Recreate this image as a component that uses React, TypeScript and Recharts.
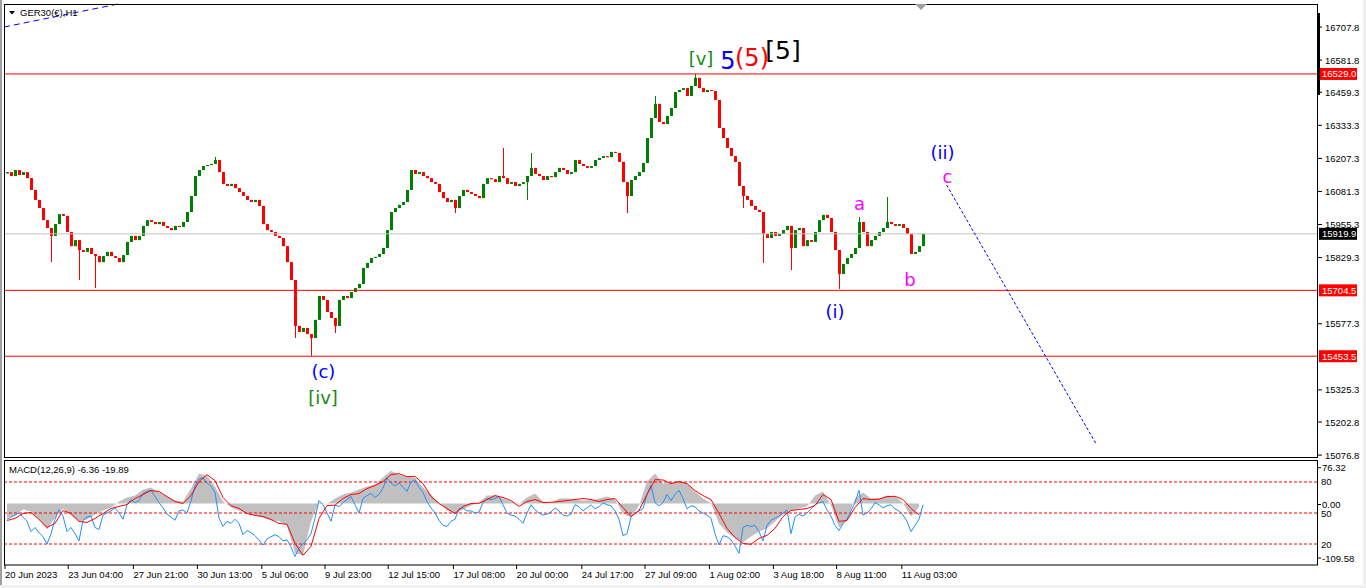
import React from "react";
import {
  ComposedChart,
  Bar,
  Area,
  Line,
  XAxis,
  YAxis,
  ReferenceLine,
  ReferenceDot,
} from "recharts";

const FONT = "'Liberation Sans', Arial, sans-serif";
const WAVE_FONT = "'DejaVu Sans', Verdana, sans-serif";

// GER30 H1 closes, one candle every 4 bars
const firstOpen = 16150;
const closes = [
  16155, 16140, 16163, 16144, 16155, 16132, 16087, 16049, 16018, 15972,
  15942, 15912, 15957, 15995, 15988, 15927, 15873, 15896, 15858, 15851,
  15866, 15843, 15835, 15812, 15835, 15851, 15835, 15828, 15812, 15839,
  15889, 15912, 15896, 15912, 15950, 15972, 15965, 15957, 15965, 15950,
  15942, 15934, 15950, 15946, 15965, 16003, 16064, 16140, 16163, 16178,
  16182, 16186, 16201, 16155, 16110, 16102, 16110, 16094, 16079, 16064,
  16049, 16041, 16049, 16026, 15957, 15934, 15927, 15912, 15904, 15873,
  15812, 15744, 15569, 15546, 15561, 15538, 15523, 15592, 15683, 15668,
  15622, 15599, 15569, 15668, 15683, 15675, 15698, 15713, 15729, 15790,
  15809, 15828, 15832, 15843, 15866, 15934, 16003, 16018, 16030, 16041,
  16087, 16163, 16148, 16155, 16140, 16132, 16117, 16110, 16079, 16056,
  16041, 16049, 16018, 16064, 16087, 16079, 16072, 16064, 16056, 16110,
  16132, 16128, 16117, 16140, 16132, 16110, 16117, 16102, 16110, 16117,
  16140, 16171, 16148, 16140, 16125, 16140, 16136, 16155, 16171, 16163,
  16148, 16155, 16201, 16186, 16178, 16171, 16178, 16201, 16209, 16216,
  16212, 16232, 16228, 16194, 16117, 16064, 16125, 16140, 16155, 16190,
  16285, 16361, 16415, 16346, 16338, 16369, 16399, 16460, 16468, 16475,
  16445, 16483, 16514, 16475, 16460, 16468, 16464, 16430, 16323, 16285,
  16247, 16216, 16194, 16102, 16064, 16049, 16026, 16011, 16003, 15919,
  15904, 15927, 15912, 15919, 15934, 15950, 15866, 15934, 15942, 15873,
  15896, 15889, 15927, 15972, 15992, 15980, 15927, 15858, 15767, 15805,
  15828, 15843, 15866, 15965, 15927, 15873, 15896, 15912, 15927, 15942,
  15965, 15957, 15950, 15957, 15942, 15919, 15843, 15851, 15873, 15919.9,
];

// long wicks: [candle, price]
const highWicks: [number, number][] = [
  [52, 16213], [124, 16247], [131, 16228], [162, 16445], [172, 16529],
  [213, 15984], [220, 16060],
];
const lowWicks: [number, number][] = [
  [11, 15812], [18, 15744], [22, 15713], [72, 15523], [76, 15455],
  [82, 15542], [112, 15999], [130, 16049], [155, 15999], [184, 16018],
  [189, 15809], [196, 15782], [208, 15710],
];

const priceTicks = [
  16707.8, 16581.8, 16459.3, 16333.3, 16207.3, 16081.3, 15955.3, 15829.3,
  15577.3, 15325.3, 15202.8, 15076.8,
];

const timeTicks = [
  -0.5, 15.3, 31.6, 47.6, 63.7, 79.5, 95.3, 111.6, 127.4, 143.7, 159.5,
  175.6, 191.6, 207.4, 223.7,
];
const timeLabels = [
  "20 Jun 2023", "23 Jun 04:00", "27 Jun 21:00", "30 Jun 13:00",
  "5 Jul 06:00", "9 Jul 23:00", "12 Jul 15:00", "17 Jul 08:00",
  "20 Jul 00:00", "24 Jul 17:00", "27 Jul 09:00", "1 Aug 02:00",
  "3 Aug 18:00", "8 Aug 11:00", "11 Aug 03:00",
];

// MACD(12,26,9), one value every 2 candles
const macdMain = [
  -24.9, -21.3, -10.7, -14.2, -28.4, -46.2, -24.9, -8.9, -21.3, -32.0,
  -28.4, -19.5, -12.4, -7.1, 3.6, 10.7, 14.2, 24.9, 28.4, 19.5,
  12.4, 5.3, 3.6, 26.6, 53.3, 49.7, 30.2, 3.6, -7.1, -12.4,
  -17.8, -21.3, -24.9, -30.2, -31.0, -39.1, -88.8, -92.3, -32.0, 1.8,
  -0.5, 8.9, 16.0, 19.5, 24.9, 30.2, 33.7, 46.2, 58.6, 51.5,
  47.9, 46.2, 28.4, 16.0, 1.8, -12.4, -17.8, -10.7, -3.6, 1.8,
  14.2, 14.8, 8.9, 3.6, -1.2, 10.7, 17.8, 3.6, 0.6, 8.9,
  9.4, 7.1, 5.3, 5.8, 8.9, 12.4, 7.1, -17.8, -24.9, -3.6,
  39.1, 53.3, 35.5, 37.3, 40.8, 35.5, 21.3, 8.9, 0.4, -35.5,
  -51.5, -62.1, -69.2, -58.6, -49.7, -44.4, -32.0, -19.5, -12.4, -8.9,
  -5.3, 14.2, 21.3, -3.6, -42.6, -30.2, 8.9, 19.5, 8.9, 9.6,
  14.2, 12.4, 0.8, -23.1, -6.36,
];
const macdSignal = [
  -30.2, -26.6, -17.8, -16.0, -28.4, -42.6, -35.5, -12.4, -17.8, -32.0,
  -33.7, -26.6, -17.8, -8.9, -5.3, -1.8, 8.9, 16.0, 23.1, 21.3,
  12.4, 3.6, 0, 14.2, 39.1, 51.5, 40.8, 10.7, -3.6, -8.9,
  -17.8, -21.3, -23.1, -28.4, -35.5, -37.0, -71.0, -92.3, -76.3, -26.6,
  -3.6, -3.0, 8.9, 16.0, 17.8, 26.6, 32.0, 39.1, 51.5, 53.3,
  47.9, 48.5, 35.5, 12.4, 0, -8.9, -17.8, -5.3, 0, 0.5,
  7.1, 14.2, 10.7, 5.3, -5.3, 3.6, 7.1, 1.8, 2.2, 3.6,
  5.3, 7.1, 8.9, 7.1, 3.6, 7.1, 8.9, -7.1, -23.1, -12.4,
  16.0, 42.6, 42.0, 35.5, 39.1, 35.5, 23.1, 14.2, 7.1, -17.8,
  -44.4, -60.4, -71.0, -72.8, -62.1, -56.8, -44.4, -23.1, -12.4, -10.7,
  -8.9, -3.6, 16.0, 7.1, -32.0, -30.2, -7.1, 8.9, 7.1, 7.6,
  12.4, 12.9, 7.1, -8.9, -19.89,
];

// oscillator overlaid in the MACD window (levels 20/50/80), one per candle
const oscLine = [
  44, 46, 48, 50, 46, 42, 32, 36, 31, 27, 20, 30, 44, 53, 47, 32, 36, 30, 23, 43,
  46, 47, 36, 34, 48, 50, 52, 55, 50, 44, 58, 63, 60, 62, 69, 71, 72, 66, 60, 55,
  49, 46, 43, 52, 53, 50, 62, 76, 83, 84, 79, 76, 70, 45, 37, 42, 40, 44, 40, 29,
  33, 31, 28, 24, 19, 25, 27, 29, 27, 23, 24, 17, 8, 16, 20, 24, 30, 45, 62, 58,
  50, 42, 58, 56, 60, 63, 66, 58, 50, 64, 67, 69, 65, 68, 74, 84, 79, 76, 79, 75,
  71, 80, 82, 75, 70, 61, 55, 50, 43, 38, 37, 42, 44, 54, 55, 52, 52, 50, 51, 60,
  64, 63, 64, 66, 58, 50, 48, 47, 44, 40, 50, 58, 53, 50, 48, 49, 51, 55, 52, 48,
  47, 49, 58, 56, 52, 55, 58, 54, 56, 60, 58, 57, 52, 44, 28, 30, 46, 50, 52, 54,
  68, 77, 60, 57, 60, 68, 62, 68, 72, 64, 54, 57, 56, 52, 50, 48, 45, 30, 19, 28,
  27, 24, 18, 11, 36, 38, 37, 38, 32, 23, 38, 43, 45, 47, 50, 53, 30, 46, 49, 47,
  50, 54, 58, 60, 61, 53, 47, 38, 33, 40, 44, 52, 60, 72, 48, 50, 54, 60, 58, 55,
  57, 58, 54, 52, 48, 42, 32, 38, 44, 58,
];

const waveLabels = [
  { text: "[v]", i: 173.5, p: 16586, color: "#138a13", size: 18 },
  { text: "5", i: 180.25, p: 16582, color: "#0000ff", size: 24 },
  { text: "(5)", i: 186.25, p: 16593, color: "#ff0000", size: 24 },
  { text: "[5]", i: 194, p: 16620, color: "#000000", size: 25 },
  { text: "(c)", i: 79.1, p: 15394, color: "#0000ff", size: 18 },
  { text: "[iv]", i: 79, p: 15294, color: "#138a13", size: 18 },
  { text: "(i)", i: 207, p: 15623, color: "#0000ff", size: 18 },
  { text: "(ii)", i: 233.9, p: 16230, color: "#0000ff", size: 18 },
  { text: "a", i: 213.1, p: 16036, color: "#ff00ff", size: 18 },
  { text: "b", i: 225.75, p: 15744, color: "#ff00ff", size: 18 },
  { text: "c", i: 235.1, p: 16137, color: "#ff00ff", size: 18 },
];

const hiMap = new Map(highWicks);
const loMap = new Map(lowWicks);
const candles = closes.map((c, i) => {
  const o = i === 0 ? firstOpen : closes[i - 1];
  const h = Math.max(o, c, hiMap.get(i) ?? -Infinity);
  const l = Math.min(o, c, loMap.get(i) ?? Infinity);
  return { i, o, h, l, c, range: [l, h] };
});

const macdRows = oscLine.map((v, i) => ({
  i,
  osc: v,
  hist: i % 2 === 0 ? macdMain[i / 2] : null,
  signal: i % 2 === 0 ? macdSignal[i / 2] : null,
}));

const X_DOMAIN: [number, number] = [-0.75, 327.75];

function Candle(props: any) {
  const { x, y, width, height, payload } = props;
  const { o, h, l, c } = payload;
  const top = Math.min(y, y + height);
  const span = Math.abs(height);
  const k = h > l ? span / (h - l) : 0;
  const yO = top + (h - o) * k;
  const yC = top + (h - c) * k;
  const color = c > o ? "#008000" : c < o ? "#ff0000" : "#000000";
  const cx = Math.round(x + width / 2) + 0.5;
  return (
    <g>
      <line x1={cx} x2={cx} y1={top} y2={top + span} stroke={color} strokeWidth={1} />
      <rect
        x={cx - 1.5}
        y={Math.min(yO, yC)}
        width={3}
        height={Math.max(1, Math.abs(yO - yC))}
        fill={color}
      />
    </g>
  );
}

function PriceTick(props: any) {
  const { x, y, payload } = props;
  return (
    <g>
      <line x1={x} x2={x + 4} y1={y} y2={y} stroke="#000" />
      <text x={x + 7} y={y} dy={3.5} fontSize={9.5} fontFamily={FONT} fill="#000">
        {payload.value.toFixed(1)}
      </text>
    </g>
  );
}

function MacdTick(props: any) {
  const { x, y, payload } = props;
  const v = payload.value;
  const shift = v > 1 ? 7 : v < -1 ? -7 : 1;
  return (
    <g>
      <line x1={x} x2={x + 3} y1={y + shift} y2={y + shift} stroke="#000" />
      <text x={x + 4} y={y + shift} dy={3.5} fontSize={9.5} fontFamily={FONT} fill="#000">
        {v.toFixed(2)}
      </text>
    </g>
  );
}

function TimeTick(props: any) {
  const { x, y, payload } = props;
  const k = timeTicks.indexOf(payload.value);
  return (
    <text x={x} y={y} dy={9} fontSize={9.5} fontFamily={FONT} fill="#000">
      {timeLabels[k]}
    </text>
  );
}

const priceTag = (text: string, bg: string) => (props: any) => {
  const { viewBox } = props;
  const x = viewBox.x + viewBox.width;
  const y = viewBox.y;
  return (
    <g>
      <rect x={x + 1} y={y - 6} width={38} height={12} fill={bg} />
      <text x={x + 4} y={y} dy={3.5} fontSize={9.5} fontFamily={FONT} fill="#fff">
        {text}
      </text>
    </g>
  );
};

const levelTag = (text: string) => (props: any) => {
  const { viewBox } = props;
  const x = viewBox.x + viewBox.width;
  return (
    <text x={x + 3} y={viewBox.y} dy={3.5} fontSize={9.5} fontFamily={FONT} fill="#000">
      {text}
    </text>
  );
};

export default function App() {
  return (
    <div
      style={{
        position: "absolute",
        left: 0,
        top: 0,
        width: 1366,
        height: 588,
        background: "#f0f0f0",
        overflow: "hidden",
      }}
    >
      <div
        style={{
          position: "absolute",
          left: 0,
          top: 0,
          width: 1363,
          height: 585,
          background: "#fff",
          borderLeft: "2px solid #a0a0a0",
          boxSizing: "border-box",
        }}
      />
      <div style={{ position: "absolute", left: 0, top: 0 }}>
        <ComposedChart
          width={1366}
          height={460}
          data={candles}
          margin={{ top: 4, right: 0, bottom: 2.3, left: 4 }}
        >
          <XAxis type="number" dataKey="i" domain={X_DOMAIN} hide allowDataOverflow />
          <YAxis
            orientation="right"
            width={48}
            domain={[15066.9, 16795.5]}
            ticks={priceTicks}
            interval={0}
            axisLine={false}
            tickLine={false}
            tickSize={0}
            tickMargin={0}
            tick={PriceTick}
            allowDataOverflow
          />
          <ReferenceLine y={15919.9} stroke="#c0c0c0" label={priceTag("15919.9", "#000")} />
          <ReferenceLine y={16529} stroke="#ff0000" label={priceTag("16529.0", "#ff0000")} />
          <ReferenceLine y={15704.5} stroke="#ff0000" label={priceTag("15704.5", "#ff0000")} />
          <ReferenceLine y={15453.5} stroke="#ff0000" label={priceTag("15453.5", "#ff0000")} />
          <ReferenceLine
            segment={[
              { x: -0.75, y: 16707.8 },
              { x: 27.75, y: 16795.5 },
            ]}
            stroke="#0000ff"
            strokeDasharray="6 4"
          />
          <ReferenceLine
            segment={[
              { x: 234.9, y: 16105.9 },
              { x: 272.2, y: 15121.7 },
            ]}
            stroke="#0000ff"
            strokeDasharray="3 2"
          />
          <Bar dataKey="range" barSize={3} shape={Candle} isAnimationActive={false} />
          {waveLabels.map((w) => (
            <ReferenceDot
              key={w.text + w.i}
              x={w.i}
              y={w.p}
              r={0}
              fill="none"
              stroke="none"
              label={{
                value: w.text,
                position: "center",
                fill: w.color,
                fontSize: w.size,
                fontFamily: WAVE_FONT,
              }}
            />
          ))}
        </ComposedChart>
      </div>
      <div style={{ position: "absolute", left: 0, top: 456 }}>
        <ComposedChart
          width={1366}
          height={132}
          data={macdRows}
          margin={{ top: 4.7, right: 0, bottom: 3, left: 4 }}
        >
          <XAxis
            type="number"
            dataKey="i"
            domain={X_DOMAIN}
            ticks={timeTicks}
            interval={0}
            height={20}
            axisLine={false}
            tickSize={4}
            tickMargin={0}
            tickLine={{ stroke: "#000" }}
            tick={TimeTick}
            allowDataOverflow
          />
          <YAxis
            yAxisId="macd"
            orientation="right"
            width={48}
            domain={[-109.58, 76.32]}
            ticks={[76.32, 0, -109.58]}
            interval={0}
            axisLine={false}
            tickLine={false}
            tickSize={0}
            tickMargin={0}
            tick={MacdTick}
            allowDataOverflow
          />
          <YAxis yAxisId="osc" hide domain={[-0.3, 100.6]} allowDataOverflow />
          <ReferenceLine yAxisId="osc" y={80} stroke="#ff0000" strokeDasharray="3 2" label={levelTag("80")} />
          <ReferenceLine yAxisId="osc" y={50} stroke="#ff0000" strokeDasharray="3 2" label={levelTag("50")} />
          <ReferenceLine yAxisId="osc" y={20} stroke="#ff0000" strokeDasharray="3 2" label={levelTag("20")} />
          <Area
            yAxisId="macd"
            dataKey="hist"
            type="linear"
            baseValue={0}
            fill="#c0c0c0"
            fillOpacity={1}
            stroke="none"
            connectNulls
            isAnimationActive={false}
          />
          <Line
            yAxisId="osc"
            dataKey="osc"
            stroke="#1e90ff"
            strokeWidth={1}
            dot={false}
            isAnimationActive={false}
          />
          <Line
            yAxisId="macd"
            dataKey="signal"
            stroke="#ff0000"
            strokeWidth={1}
            dot={false}
            connectNulls
            isAnimationActive={false}
          />
        </ComposedChart>
      </div>
      <svg
        width={1366}
        height={588}
        style={{ position: "absolute", left: 0, top: 0, pointerEvents: "none" }}
      >
        <rect x={4.5} y={4.5} width={1313} height={453} fill="none" stroke="#000" />
        <rect x={4.5} y={460.5} width={1313} height={104.5} fill="none" stroke="#000" />
        <rect x={1317} y={13} width={3} height={82} fill="#000" />
        <polygon points="915,4 927,4 921,10" fill="#a0a0a0" />
        <polygon points="9,11 15,11 12,14.5" fill="#000" />
        <text x={20} y={16} fontSize={9.5} fontFamily={FONT} fill="#000">
          GER30(€),H1
        </text>
        <text x={9} y={473} fontSize={9.5} fontFamily={FONT} fill="#000">
          MACD(12,26,9) -6.36 -19.89
        </text>
      </svg>
    </div>
  );
}
